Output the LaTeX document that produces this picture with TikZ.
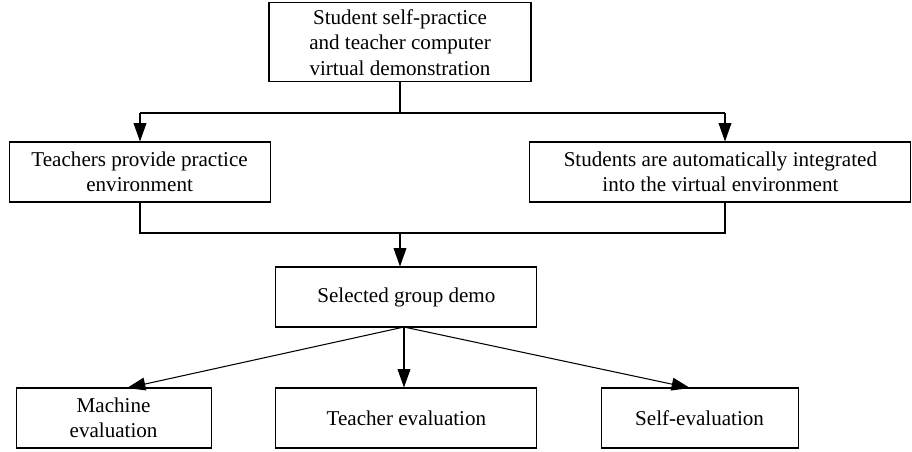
\documentclass[tikz,border=0pt]{standalone}
\usepackage{fontspec}
\setmainfont{Liberation Serif}
\usepackage{tikz}
\usetikzlibrary{arrows.meta,positioning,calc}
\tikzset{
flowbox/.style={draw=black, line width=0.75pt, align=center, inner sep=2pt, minimum height=1.5cm},
flowline/.style={draw=black, line width=0.75pt},
flowarrow/.style={flowline, -{Triangle[length=4.6mm, width=3.2mm]}}
}

\begin{document}
\begin{tikzpicture}[font=\fontsize{15}{18}\selectfont, x=1cm, y=1cm]
  \useasboundingbox (0,0) rectangle (22.8,-11.275);
  \node[flowbox, minimum width=6.55cm, minimum height=1.975cm] (practice) at (10.0,-1.06) {Student self-practice\\and teacher computer\\virtual demonstration};
  \node[flowbox, minimum width=6.525cm] (teachenv) at (3.49,-4.3) {Teachers provide practice\\environment};
  \node[flowbox, minimum width=9.525cm] (studenv) at (18.01,-4.3) {Students are automatically integrated\\into the virtual environment};
  \node[flowbox, minimum width=6.525cm] (demo) at (10.16,-7.425) {Selected group demo};
  \node[flowbox, minimum width=4.875cm] (machine) at (2.84,-10.45) {Machine\\evaluation};
  \node[flowbox, minimum width=6.525cm] (teacheval) at (10.16,-10.45) {Teacher evaluation};
  \node[flowbox, minimum width=4.925cm] (selfeval) at (17.49,-10.45) {Self-evaluation};
  % junctions
  \coordinate (split) at (10.0,-2.825);
  \coordinate (splitL) at (3.5,-2.825);
  \coordinate (splitR) at (18.125,-2.825);
  \coordinate (joinL) at (3.5,-5.825);
  \coordinate (joinR) at (18.125,-5.825);
  \coordinate (join) at (10.0,-5.825);
  \coordinate (fan) at (10.1,-8.175);
  \draw[flowline] (practice.south -| split) -- (split);
  \draw[flowline] (splitL) -- (splitR);
  \draw[flowarrow] (splitL) -- (splitL |- teachenv.north);
  \draw[flowarrow] (splitR) -- (splitR |- studenv.north);
  \draw[flowline] (joinL |- teachenv.south) -- (joinL) -- (joinR) -- (joinR |- studenv.south);
  \draw[flowarrow] (join) -- (join |- demo.north);
  \draw[flowarrow] (fan) -- (3.175,-9.7);
  \draw[flowarrow] (fan) -- (fan |- teacheval.north);
  \draw[flowarrow] (fan) -- (17.25,-9.7);
\end{tikzpicture}
\end{document}
